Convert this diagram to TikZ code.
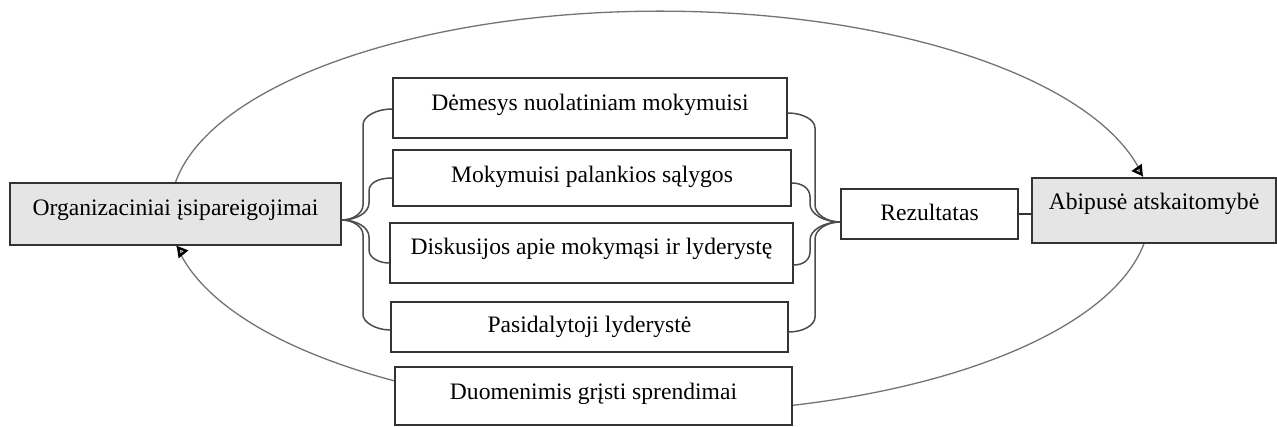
\documentclass[tikz,border=0pt]{standalone}
\usepackage{fontspec}
\setmainfont{Liberation Serif}
\usetikzlibrary{arrows.meta,calc}
\pgfdeclarelayer{bg}
\pgfsetlayers{bg,main}
\begin{document}
\begin{tikzpicture}[x=1pt,y=1pt,
  box/.style={draw=black!80,line width=1.4pt,fill=white,inner sep=0pt,text depth=0pt,
    font=\fontsize{23.6}{28}\selectfont},
  graybox/.style={box,fill=black!10},
  brace/.style={draw=black!70,line width=1.5pt},
  loop/.style={draw=black!55,line width=1.3pt},
  tip/.style={-{Triangle[open,length=11pt,width=12pt,line width=2.4pt,color=black]}}
]
\useasboundingbox (0,0) rectangle (1277,427);
\node[graybox,minimum width=331,minimum height=62,text height=4pt] (org) at (175.5,213) {Organizaciniai įsipareigojimai};
\node[graybox,minimum width=244,minimum height=65,text height=0pt,text depth=2pt] (abi) at (1154,216.5) {Abipusė atskaitomybė};
\node[box,minimum width=394,minimum height=60,text height=6pt] (b1) at (590,319) {Dėmesys nuolatiniam mokymuisi};
\node[box,minimum width=398,minimum height=56,text height=9pt] (b2) at (592,249) {Mokymuisi palankios sąlygos};
\node[box,minimum width=403,minimum height=60,text height=4pt] (b3) at (591.5,174) {Diskusijos apie mokymąsi ir lyderystę};
\node[box,minimum width=397,minimum height=50,text height=12pt] (b4) at (589.5,100) {Pasidalytoji lyderystė};
\node[box,minimum width=397,minimum height=58,text height=7pt] (b5) at (593.5,31) {Duomenimis grįsti sprendimai};
\node[box,minimum width=177,minimum height=50,text height=14pt] (rez) at (929.5,213) {Rezultatas};
% loop arcs behind the boxes
\begin{pgfonlayer}{bg}
\draw[loop] (org.north) arc[start angle=171.7,end angle=10,x radius=490,y radius=200] coordinate (topend);
\draw[loop] ([xshift=-10]abi.south) arc[start angle=-8.9,end angle=-170.5,x radius=490,y radius=200] coordinate (botend);
\end{pgfonlayer}
% arrowheads on top of boxes
\draw[loop,tip] (topend) ++(-3.5,5) -- (topend);
\draw[loop,tip] (botend) ++(4,-5) -- (botend);
% connector
\draw[brace,draw=black!80] (rez.east) -- (rez.east -| abi.west);
% left braces
\coordinate (ltip) at ([yshift=-6]org.east);
\draw[brace] ([yshift=-1]b1.west) .. controls (376.5,318) and (363,310.8) .. (363,302) -- (363,222)
  .. controls (363,213.8) and (353,207) .. (ltip)
  .. controls (353,207) and (363,200.2) .. (363,192) -- (363,112)
  .. controls (363,105.4) and (375,97) .. ([yshift=-3]b4.west);
\draw[brace] (b2.west) .. controls (379,249) and (369,244.5) .. (369,236) -- (369,224)
  .. controls (369,214) and (356,207) .. (ltip)
  .. controls (356,207) and (369,200) .. (369,190) -- (369,177)
  .. controls (369,169) and (379,164) .. ([yshift=-10]b3.west);
% right braces
\coordinate (rtip) at ([yshift=-8]rez.west);
\draw[brace] ([yshift=-5]b1.east) .. controls (802.4,314) and (815,307.4) .. (815,299) -- (815,222)
  .. controls (815,212.7) and (826.7,205) .. (rtip)
  .. controls (826.7,205) and (815,197.3) .. (815,188) -- (815,110)
  .. controls (815,101.7) and (803,95) .. ([yshift=-5]b4.east);
\draw[brace] ([yshift=-5]b2.east) .. controls (801.5,244) and (810,239) .. (810,230) -- (810,223)
  .. controls (810,213) and (824,205) .. (rtip)
  .. controls (824,205) and (810,197) .. (810,187) -- (810,175)
  .. controls (810,167) and (803,162) .. ([yshift=-12]b3.east);
\end{tikzpicture}
\end{document}
